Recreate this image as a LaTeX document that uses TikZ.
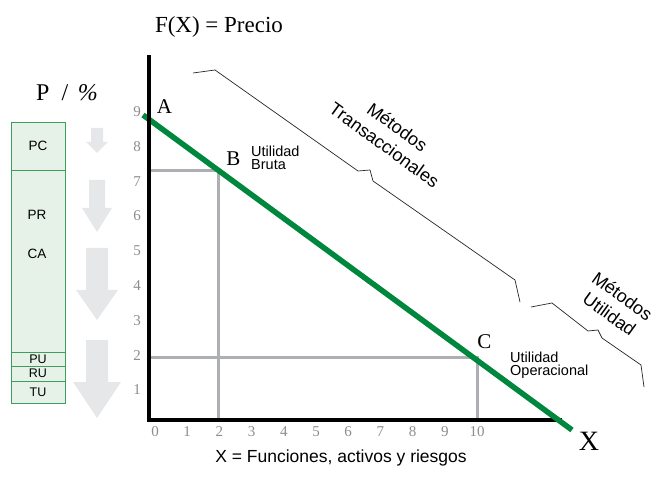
\documentclass[tikz,border=0pt]{standalone}
\usepackage{fontspec}
\setmainfont{Liberation Serif}
\setsansfont{Liberation Sans}
\usetikzlibrary{positioning}
\definecolor{curve}{HTML}{00873E}
\definecolor{cell}{HTML}{E6F2E8}
\definecolor{cellline}{HTML}{3E9D5E}
\definecolor{guide}{HTML}{ADAFB2}
\definecolor{arrfill}{HTML}{E6E7E8}
\definecolor{ticktext}{HTML}{8C8C8C}
\tikzset{cellbox/.style={draw=cellline,fill=cell,line width=0.9pt,minimum width=54pt,inner sep=0pt,outer sep=0pt,font=\sffamily\fontsize{13.5}{14}\selectfont},smallcell/.style={cellbox,font=\sffamily\fontsize{12.5}{13}\selectfont},celltext/.style={inner sep=0pt,font=\sffamily\fontsize{13.5}{14}\selectfont},tick/.style={text=ticktext,inner sep=0pt,font=\fontsize{15}{16}\selectfont},pt/.style={inner sep=0pt,font=\fontsize{21}{22}\selectfont},note/.style={align=left,inner sep=0pt,font=\sffamily\fontsize{14.5}{13}\selectfont},method/.style={align=center,rotate=-36,inner sep=0pt,font=\sffamily\fontsize{18}{22}\selectfont},brace/.style={draw=black!85,line width=0.7pt},axis/.style={line width=4.5pt},guideline/.style={draw=guide,line width=3pt}}

\begin{document}
\begin{tikzpicture}[x=1pt,y=-1pt]
\useasboundingbox (0,0) rectangle (657,492);
% axes and guides
\coordinate (O) at (149,420);
\coordinate (ytop) at (149,57);
\coordinate (xend) at (562,420);
\coordinate (B) at (218,171);
\coordinate (C) at (477,357);
\coordinate (a0) at (143,115);
\coordinate (x1) at (572,430);
\draw[guideline] (B -| O) -- (B) -- (B |- O);
\draw[guideline] (C -| O) -- (C) -- (C |- O);
\draw[axis] (O) -- (xend);
\draw[curve,line width=5.5pt] (a0) -- (x1);
\draw[axis,line cap=rect] (ytop) -- (O);
\foreach \i in {0,...,10} \node[tick] (x\i) at (155+32.2*\i,432) {\i};
\foreach \i in {1,...,9} \node[tick] (y\i) at (137,390-34.8*\i+34.8) {\i};
% points and labels
\node[pt] (lA) at (164.5,106.5) {A};
\node[pt] (lB) at (233.5,158.5) {B};
\node[pt] (lC) at (484.5,342) {C};
\node[note,anchor=west] (nB) at (251,158) {Utilidad\\Bruta};
\node[note,anchor=west] (nC) at (510,365) {Utilidad\\Operacional};
\node[font=\fontsize{23}{26}\selectfont] (title) at (219,27) {F(X) = Precio};
\node[font=\fontsize{28}{30}\selectfont] (xlab) at (589,441) {X};
\node[font=\sffamily\fontsize{17.5}{19}\selectfont] (caption) at (341,458) {X = Funciones, activos y riesgos};
% methods
\draw[brace] (193,73) -- (215,70) -- (358,171) -- (370,170) -- (373,181) -- (515,280) -- (520,302);
\draw[brace] (531,307) -- (552,303) -- (588,331) -- (598,330) -- (602,338) -- (641,365) -- (644,387);
\node[method] (mt) at (391,136) {Métodos\\Transaccionales};
\node[method] (mu) at (616,305) {Métodos\\Utilidad};
% left column
\node[font=\fontsize{24}{26}\selectfont] (ptitle) at (67,93) {P\hspace{0.5em}/\hspace{0.4em}\textit{\%}};
\node[cellbox,minimum height=48pt] (pc) at (38,146) {PC};
\node[cellbox,minimum height=182pt,below=0pt of pc] (pr) {};
\node[smallcell,minimum height=14pt,below=0pt of pr] (pu) {PU};
\node[smallcell,minimum height=15pt,below=0pt of pu] (ru) {RU};
\node[smallcell,minimum height=22pt,below=0pt of ru] (tu) {TU};
\node[celltext] (prl) at (37,215) {PR};
\node[celltext] (cal) at (37,254) {CA};
\foreach \ya/\yh/\yb/\sw/\hw in {128/142/153/6/11,180/208/232/8/15,248/290/320/11/21,340/382/418/11/24}
  \fill[arrfill] (97-\sw,\ya) -- (97+\sw,\ya) -- (97+\sw,\yh) -- (97+\hw,\yh) -- (97,\yb) -- (97-\hw,\yh) -- (97-\sw,\yh) -- cycle;
\end{tikzpicture}
\end{document}
